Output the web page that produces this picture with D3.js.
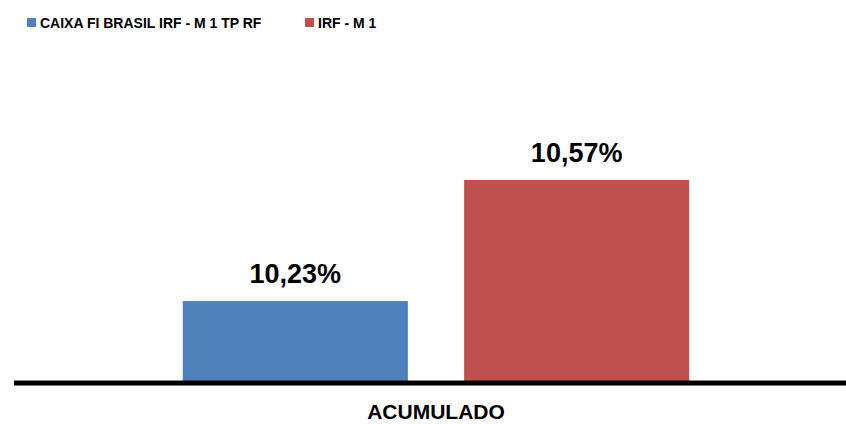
<!DOCTYPE html>
<html>
<head>
<meta charset="utf-8">
<script src="https://cdn.jsdelivr.net/npm/d3@7"></script>
<style>
  body { margin: 0; background: #fff; }
  text { font-family: "Liberation Sans", Arial, sans-serif; font-weight: bold; }
</style>
</head>
<body>
<script>
// Data
const categories = ["ACUMULADO"];
const seriesNames = ["CAIXA FI BRASIL IRF - M 1 TP RF", "IRF - M 1"];
const seriesColors = ["#4F81BD", "#C0504D"];
const seriesValues = [[10.23], [10.57]];
const yDomain = [10, 10.8];

const WIDTH = 846;
const HEIGHT = 424;
const BASE_Y = 383;

const svg = d3.select("body")
  .append("svg")
  .attr("width", WIDTH)
  .attr("height", HEIGHT);

// Scales
const x0 = d3.scaleBand()
  .domain(categories)
  .range([14, 858])
  .paddingInner(0.2)
  .paddingOuter(0.2);

const x1 = d3.scaleBand()
  .domain(seriesNames)
  .range([0, x0.bandwidth()])
  .paddingInner(0.2)
  .paddingOuter(0.1);

const yScale = d3.scaleLinear()
  .domain(yDomain)
  .range([BASE_Y, 98]);

const fmt = (v) => d3.format(".2f")(v).replace(".", ",") + "%";

// Bars
categories.forEach((cat, ci) => {
  const g = svg.append("g")
    .attr("transform", `translate(${x0(cat)},0)`);

  seriesNames.forEach((name, si) => {
    const v = seriesValues[si][ci];
    g.append("rect")
      .attr("x", x1(name))
      .attr("y", yScale(v))
      .attr("width", x1.bandwidth())
      .attr("height", BASE_Y - yScale(v))
      .attr("fill", seriesColors[si]);

    g.append("text")
      .attr("x", x1(name) + x1.bandwidth() / 2)
      .attr("y", yScale(v) - 18)
      .attr("text-anchor", "middle")
      .style("font-size", "27px")
      .attr("fill", "#000")
      .text(fmt(v));
  });
});

// Category axis (labels only)
const xAxis = d3.axisBottom(x0).tickSize(0).tickPadding(21);
const axisG = svg.append("g")
  .attr("transform", `translate(0,${BASE_Y})`)
  .call(xAxis);
axisG.select(".domain").remove();
axisG.selectAll("text")
  .style("font-size", "21px")
  .attr("fill", "#000");

svg.append("line")
  .attr("x1", 14)
  .attr("x2", WIDTH)
  .attr("y1", BASE_Y)
  .attr("y2", BASE_Y)
  .attr("stroke", "#000")
  .attr("stroke-width", 5);

// Legend
const legendX = [27, 305];
const legend = svg.append("g");
seriesNames.forEach((name, i) => {
  legend.append("rect")
    .attr("x", legendX[i])
    .attr("y", 18)
    .attr("width", 9)
    .attr("height", 9)
    .attr("fill", seriesColors[i]);
  legend.append("text")
    .attr("x", legendX[i] + 13)
    .attr("y", 28)
    .style("font-size", "14px")
    .attr("fill", "#000")
    .text(name);
});
</script>
</body>
</html>
